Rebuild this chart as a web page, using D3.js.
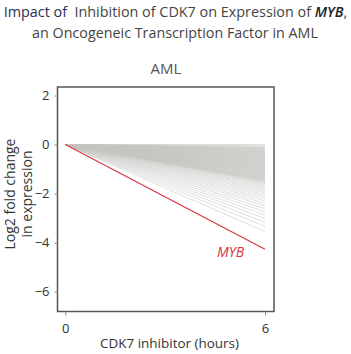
<!DOCTYPE html>
<html><head><meta charset="utf-8">
<script src="https://cdn.jsdelivr.net/npm/d3@7"></script>
<style>body{margin:0;background:#fff}svg{display:block}text{font-family:"Open Sans","Noto Sans",sans-serif}</style>
</head><body>
<script>
// Time points (hours)
const timePoints = [0, 6];
const xTicks = [0, 6];
const yTicks = [2, 0, -2, -4, -6];
// MYB log2 fold change at each time point
const mybValues = [0, -4.28];
// Log2 fold change at 6 h of other genes (gray fan)
const geneEnds = [
  0.00, -0.05, -0.09,
  -0.12, -0.14, -0.16, -0.18, -0.20, -0.22, -0.24, -0.26, -0.28, -0.30, -0.32, -0.34,
  -0.36, -0.38, -0.40, -0.42, -0.44, -0.46, -0.48, -0.50, -0.52, -0.54, -0.56, -0.58,
  -0.60, -0.62, -0.64, -0.66, -0.68, -0.70, -0.72, -0.74, -0.76, -0.78, -0.80, -0.82,
  -0.84, -0.86, -0.88, -0.90, -0.92, -0.94, -0.96, -0.98, -1.00, -1.02, -1.04, -1.06,
  -1.08, -1.10, -1.12, -1.14, -1.16, -1.18, -1.20, -1.22, -1.24, -1.26, -1.28, -1.30,
  -1.32, -1.34, -1.36, -1.38, -1.40, -1.42, -1.44, -1.46, -1.48, -1.50, -1.53, -1.56,
  -1.60, -1.65, -1.70, -1.76, -1.82, -1.89, -1.96, -2.04, -2.12, -2.21, -2.30, -2.40,
  -2.50, -2.62, -2.74, -2.88, -3.02, -3.18, -3.35, -3.55
];
const titleParts1 = [
  {t: "Impact", fill: "#1f2f5c", style: "normal", weight: 400},
  {t: " of  ", fill: "#1f2f5c", style: "normal", weight: 400},
  {t: "Inhibition of CDK7 on Expression of ", fill: "#444", style: "normal", weight: 400},
  {t: "MYB", fill: "#222", style: "italic", weight: 600},
  {t: ",", fill: "#444", style: "normal", weight: 400}
];
const title2 = "an Oncogeneic Transcription Factor in AML";
const panelTitle = "AML";
const xLabel = "CDK7 inhibitor (hours)";
const yLabel = ["Log2 fold change", "in expression"];

const W = 351, H = 354;
const svg = d3.select("body").append("svg").attr("width", W).attr("height", H);

const plot = {l: 57.5, r: 274, t: 87, b: 311.5};
const x = d3.scaleLinear().domain([0, 6]).range([65.3, 265]);
const y = d3.scaleLinear().domain([0, -2]).range([144.5, 193.5]);

// fit a text to a target width by adjusting font size
function fit(sel, target) {
  const w = sel.node().getComputedTextLength();
  const fs = +sel.attr("font-size");
  sel.attr("font-size", (fs * target / w).toFixed(2));
}

// title
const t1 = svg.append("text").attr("x", W/2).attr("y", 17).attr("text-anchor", "middle")
  .attr("font-size", 16).attr("xml:space", "preserve");
titleParts1.forEach(p => t1.append("tspan").text(p.t).attr("fill", p.fill)
  .attr("font-style", p.style).attr("font-weight", p.weight));
fit(t1, 344);
const t2 = svg.append("text").attr("x", 175).attr("y", 38).attr("text-anchor", "middle")
  .attr("font-size", 16).attr("fill", "#444").text(title2);
fit(t2, 286);

svg.append("text").attr("x", 166).attr("y", 74).attr("text-anchor", "middle")
  .attr("font-size", 15).attr("fill", "#555").text(panelTitle);

// gray fan
const line = d3.line().x(d => x(d[0])).y(d => y(d[1]));
svg.append("g").selectAll("path").data(geneEnds).join("path")
  .attr("d", v => line([[timePoints[0], 0], [timePoints[1], v]]))
  .attr("fill", "none").attr("stroke", "#c4c4c1").attr("stroke-opacity", 0.7)
  .attr("stroke-width", 0.8);

// MYB line
svg.append("path").attr("d", line(timePoints.map((t, i) => [t, mybValues[i]])))
  .attr("fill", "none").attr("stroke", "#d8323c").attr("stroke-width", 1.1);
svg.append("text").attr("x", 217).attr("y", 257).attr("font-size", 14)
  .attr("font-style", "italic").attr("fill", "#d8323c").text("MYB");

// frame
svg.append("rect").attr("x", plot.l).attr("y", plot.t)
  .attr("width", plot.r - plot.l).attr("height", plot.b - plot.t)
  .attr("fill", "none").attr("stroke", "#555").attr("stroke-width", 1.5);

// axes
const yAxis = svg.append("g").attr("transform", `translate(${plot.l},0)`)
  .call(d3.axisLeft(y).tickValues(yTicks).tickSize(3).tickPadding(5).tickFormat(d3.format("d")));
const xAxis = svg.append("g").attr("transform", `translate(0,${plot.b})`)
  .call(d3.axisBottom(x).tickValues(xTicks).tickSize(4).tickPadding(8).tickFormat(d3.format("d")));
[yAxis, xAxis].forEach(a => {
  a.select(".domain").remove();
  a.selectAll("line").attr("stroke", "#888");
  a.selectAll("text").attr("font-size", 13).attr("fill", "#333")
   .attr("font-family", '"Open Sans","Noto Sans",sans-serif');
});

const xl = svg.append("text").attr("x", 169.5).attr("y", 348).attr("text-anchor", "middle")
  .attr("font-size", 15).attr("fill", "#333").text(xLabel);
fit(xl, 139);
const yl = svg.append("text").attr("transform", "translate(0,194) rotate(-90)")
  .attr("text-anchor", "middle").attr("font-size", 14).attr("fill", "#333");
yLabel.forEach((s, i) => yl.append("tspan").attr("x", 0).attr("y", 15 + i * 17).text(s));
</script>
</body></html>
